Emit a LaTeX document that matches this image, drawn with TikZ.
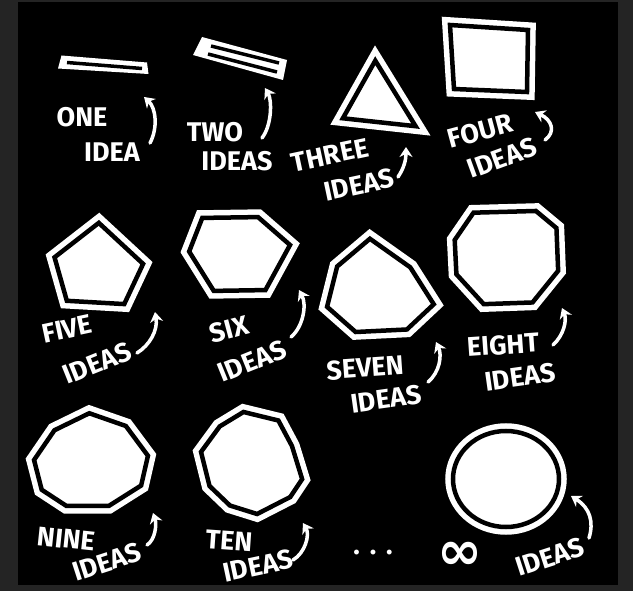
\documentclass[tikz,border=0pt]{standalone}
\usepackage{fontspec}
\setmainfont{Fira Sans}
\newfontfamily\symfont{DejaVu Sans}
\usetikzlibrary{arrows.meta}

% curved arrow from a label up to its shape
\newcommand{\bentarrow}[5]{%
  \coordinate (#1s) at #2;
  \coordinate (#1e) at #5;
  \draw[curly] (#1s) .. controls #3 and #4 .. (#1e);}

\begin{document}
\begin{tikzpicture}[x=1pt,y=-1pt,
    idea/.style={draw=white, fill=white, line width=5.5pt, double=black,
      double distance=4.5pt, line join=miter},
    lbl/.style={text=white, inner sep=0pt, font=\bfseries\fontsize{27}{27}\selectfont},
    curly/.style={draw=white, line width=3.5pt, line cap=round,
      -{Stealth[length=10pt,width=13pt]}}]
  \useasboundingbox (0,0) rectangle (633,591);
  \fill[black!86] (0,0) rectangle (633,591);
  \fill[black] (18,2) rectangle (618,585);

  % row 1
  \fill[white] (61.5,55.5) -- (147,62.5) -- (148.5,74) -- (58,68.5) -- cycle;
  \draw[black, line width=3.5pt] (67,62.5) -- (142,68.5);
  \fill[white] (202,37) -- (287,60) -- (283,80) -- (193,55) -- cycle;
  \draw[black, line width=3.5pt] (211,46) -- (279,63);
  \draw[black, line width=3.5pt] (208,54) -- (277,72);
  \draw[idea, shift={(376,101)}, scale=0.72] (-1,-56) -- (-46,24) -- (55,35) -- cycle;
  \draw[idea] (450,25) -- (528,30) -- (527,92) -- (454,89) -- cycle;

  \node[lbl] (one) at (82,117) {ONE};
  \node[lbl] (oneid) at (112,152) {IDEA};
  \node[lbl] (two) at (215,132) {TWO};
  \node[lbl] (twoid) at (237,161) {IDEAS};
  \node[lbl, rotate=12] (three) at (330,155) {THREE};
  \node[lbl, rotate=12] (threeid) at (359,185) {IDEAS};
  \node[lbl, rotate=15] (four) at (480,131) {FOUR};
  \node[lbl, rotate=20] (fourid) at (502,158) {IDEAS};

  \bentarrow{aone}{(150,143)}{(158,128)}{(156,108)}{(144,97)}
  \bentarrow{atwo}{(262,138)}{(272,125)}{(272,100)}{(265,88)}
  \bentarrow{athree}{(398,177)}{(404,168)}{(406,160)}{(406,147)}
  \bentarrow{afour}{(545,140)}{(556,132)}{(552,120)}{(535,112)}

  % row 2
  \draw[idea, shift={(98,268)}, scale=0.82]
    (1,-55) -- (55,-5) -- (32,44) -- (-38,40) -- (-53,-13) -- cycle;
  \draw[idea, shift={(240,254)}, scale=0.82]
    (-46,-44) -- (22,-45) -- (61,-11) -- (31,44) -- (-32,45) -- (-62,-3) -- cycle;
  \draw[idea, shift={(380,290)}, scale=0.84]
    (-12,-61) -- (36,-27) -- (64,17) -- (32,47) -- (-29,50) -- (-63,20) -- (-51,-28) -- cycle;
  \draw[idea, shift={(506,258)}, scale=0.855]
    (-38,-53) -- (35,-55) -- (59,-35) -- (61,15) -- (31,52) -- (-26,54) -- (-58,19) -- (-60,-21) -- cycle;

  \node[lbl, rotate=12] (five) at (67,329) {FIVE};
  \node[lbl, rotate=22] (fiveid) at (97,363) {IDEAS};
  \node[lbl, rotate=15] (six) at (229,329) {SIX};
  \node[lbl, rotate=22] (sixid) at (252,361) {IDEAS};
  \node[lbl, rotate=4] (seven) at (365,368) {SEVEN};
  \node[lbl, rotate=8] (sevenid) at (386,399) {IDEAS};
  \node[lbl, rotate=4] (eight) at (503,345) {EIGHT};
  \node[lbl, rotate=8] (eightid) at (520,377) {IDEAS};

  \bentarrow{afive}{(137,353)}{(150,345)}{(158,330)}{(155,312)}
  \bentarrow{asix}{(291,337)}{(303,327)}{(307,305)}{(299,290)}
  \bentarrow{aseven}{(428,382)}{(440,372)}{(442,355)}{(436,342)}
  \bentarrow{aeight}{(553,345)}{(564,335)}{(567,320)}{(562,308)}

  % row 3
  \draw[idea, shift={(91,460)}, scale=0.85]
    (-2,-55) -- (41,-40) -- (67,-5) -- (59,30) -- (21,54) -- (-29,54) -- (-58,35) -- (-67,0) -- (-43,-35) -- cycle;
  \draw[idea, shift={(252,463)}, scale=0.85]
    (-10,-60) -- (31,-50) -- (47,-20) -- (59,19) -- (45,40) -- (6,60) -- (-26,50) -- (-50,27) -- (-60,-13) -- (-38,-43) -- cycle;
  \draw[idea] (506,479) ellipse [x radius=53, y radius=48];

  \node[lbl, rotate=-6] (nine) at (66,539) {NINE};
  \node[lbl, rotate=18] (nineid) at (107,562) {IDEAS};
  \node[lbl, rotate=-4] (ten) at (229,541) {TEN};
  \node[lbl, rotate=12] (tenid) at (258,566) {IDEAS};
  \node[lbl] (dots) at (373,553) {.\hspace{10pt}.\hspace{10pt}.};
  \node[lbl, font=\symfont\bfseries\fontsize{54}{54}\selectfont] (inf) at (460,556) {∞};
  \node[lbl, rotate=18] (infid) at (550,557) {IDEAS};

  \bentarrow{anine}{(147,545)}{(155,540)}{(157,525)}{(153,513)}
  \bentarrow{aten}{(293,560)}{(305,553)}{(310,535)}{(303,523)}
  \bentarrow{ainf}{(589,538)}{(594,522)}{(590,508)}{(571,496)}
\end{tikzpicture}
\end{document}
